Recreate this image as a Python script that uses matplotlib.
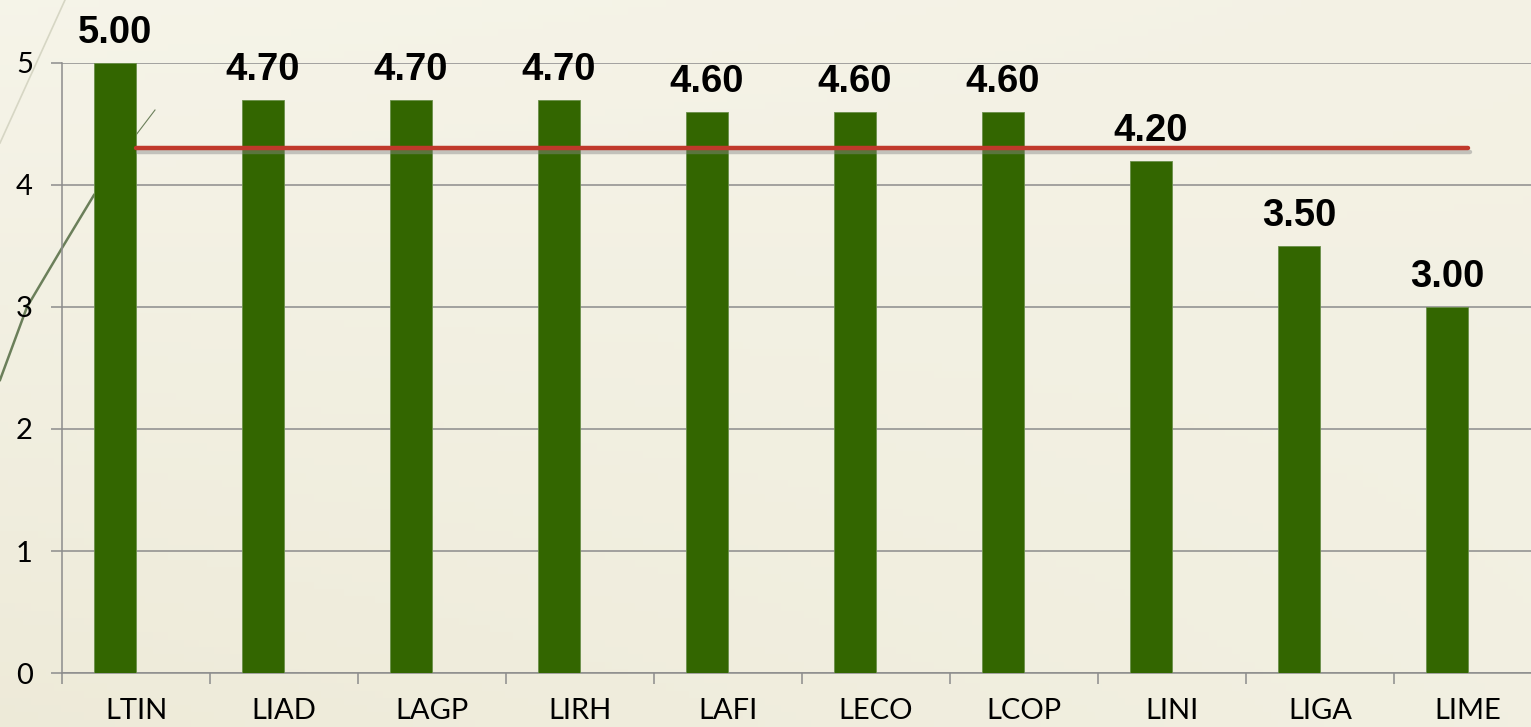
import numpy as np
import matplotlib.pyplot as plt
import matplotlib.patheffects as pe

categories = ['LTIN', 'LIAD', 'LAGP', 'LIRH', 'LAFI', 'LECO', 'LCOP', 'LINI', 'LIGA', 'LIME']
scores = [5.00, 4.70, 4.70, 4.70, 4.60, 4.60, 4.60, 4.20, 3.50, 3.00]
target = [4.30] * len(categories)

W, H = 1531, 727
fig = plt.figure(figsize=(W / 100, H / 100), dpi=100)

# slide background: soft cream gradient
bg = fig.add_axes([0, 0, 1, 1], zorder=-10)
gx, gy = np.meshgrid(np.linspace(0, 1, 200), np.linspace(0, 1, 100))
shade = 0.7 * (1 - gx) * gy + 0.4 * gx * gy + 0.15 * (1 - gx) * (1 - gy) + 0.3 * gx * (1 - gy)
c1 = np.array([0.972, 0.968, 0.930])
c2 = np.array([0.915, 0.898, 0.815])
img = c1[None, None, :] * (1 - shade[..., None]) + c2[None, None, :] * shade[..., None]
bg.imshow(img, aspect='auto', extent=[0, W, 0, H], origin='upper')
# decorative slide curves
bg.plot([0, 65], [H - 143, H], color='#d6d6c4', lw=1.2)
bg.plot([0, 27, 62, 94], [H - 380, H - 307, H - 248, H - 195], color='#6b7f5a', lw=1.8)
bg.plot([136, 155], [H - 135, H - 110], color='#6b7f5a', lw=0.8)
bg.set_xlim(0, W)
bg.set_ylim(0, H)
bg.axis('off')

ax = fig.add_axes([62 / W, (H - 673) / H, 1480 / W, 610 / H])
ax.patch.set_alpha(0)
x = np.arange(len(categories))

ax.bar(x, scores, width=-0.285, align='edge', color='#336600',
       edgecolor='#6a8f4a', linewidth=0.6, zorder=3)

ax.plot(x, target, color='#c0392b', lw=3.2, solid_capstyle='round', zorder=4,
        path_effects=[pe.SimpleLineShadow(offset=(1.5, -2.5), shadow_color='#888888', alpha=0.45),
                      pe.Normal()])

for xi, v in zip(x, scores):
    ax.annotate(f'{v:.2f}', (xi - 0.1425, v), xytext=(0, 14.4), textcoords='offset points',
                ha='center', va='baseline', fontsize=27.5, fontweight='bold',
                family='Liberation Sans', color='black', zorder=5, annotation_clip=False)

ax.set_xlim(-0.5, len(categories) - 0.5)
ax.set_ylim(0, 5)
ax.set_yticks(range(6))
ax.yaxis.grid(True, color='#8c8c8c', lw=1.1, zorder=0)
ax.set_axisbelow(True)

ax.set_xticks(np.arange(-0.5, len(categories), 1), minor=False)
ax.set_xticklabels([])
ax.set_xticks(x, minor=True)
ax.set_xticklabels(categories, minor=True, fontsize=21, family='Lato')
ax.tick_params(axis='x', which='minor', length=0, pad=18)
ax.tick_params(axis='x', which='major', length=8, width=1.1, color='#8c8c8c')
ax.tick_params(axis='y', length=8, width=1.1, color='#8c8c8c', pad=13, labelsize=21)
for lab in ax.get_yticklabels():
    lab.set_family('Lato')

for s in ['top', 'right']:
    ax.spines[s].set_visible(False)
for s in ['left', 'bottom']:
    ax.spines[s].set_color('#8c8c8c')
    ax.spines[s].set_linewidth(1.1)

fig.savefig('out.png', dpi=100)
